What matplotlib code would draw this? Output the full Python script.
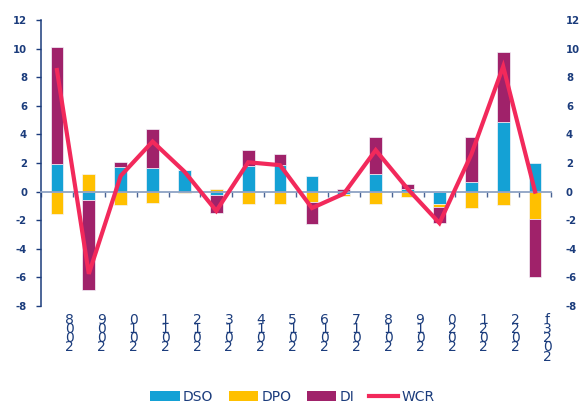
import numpy as np
import matplotlib
matplotlib.use("Agg")
import matplotlib.pyplot as plt
from matplotlib.patches import Patch
from matplotlib.lines import Line2D
from matplotlib import transforms

years = ["2008", "2009", "2010", "2011", "2012", "2013", "2014", "2015",
         "2016", "2017", "2018", "2019", "2020", "2021", "2022", "2023f"]
DSO = [1.9, -0.6, 1.75, 1.65, 1.5, -0.25, 1.8, 1.85, 1.1, -0.2, 1.25, 0.2, -0.85, 0.65, 4.85, 2.0]
DPO = [-1.6, 1.2, -0.95, -0.8, -0.1, 0.15, -0.85, -0.85, -0.75, -0.12, -0.85, -0.35, -0.2, -1.15, -0.95, -1.95]
DI = [8.2, -6.3, 0.3, 2.7, 0.0, -1.25, 1.1, 0.8, -1.5, 0.18, 2.55, 0.35, -1.15, 3.15, 4.9, -4.0]
WCR = [8.5, -5.75, 1.1, 3.5, 1.4, -1.35, 2.05, 1.85, -1.15, -0.15, 2.9, 0.2, -2.2, 2.6, 8.75, 0.0]
yticks = [-8, -6, -4, -2, 0, 2, 4, 6, 8, 10, 12]

series = [("DSO", DSO, "#14a1d5"), ("DPO", DPO, "#ffc000"), ("DI", DI, "#a0226a")]
NAVY = "#1b3c7c"
WCR_C = "#f2295b"
ZERO_C = "#8ea2c4"

plt.rcParams['font.family'] = ['DejaVu Sans']
fig = plt.figure(figsize=(5.82, 4.03), dpi=100)
ax = fig.add_axes([41/582, 1-306/403, 510/582, 286/403])

x = np.arange(len(years))
pos_base = np.zeros(len(years))
neg_base = np.zeros(len(years))
for name, vals, col in series:
    v = np.array(vals, dtype=float)
    base = np.where(v >= 0, pos_base, neg_base)
    ax.bar(x, v, width=0.4, bottom=base, color=col, edgecolor="#f4f4fa",
           linewidth=0.5, zorder=2)
    pos_base = pos_base + np.where(v >= 0, v, 0)
    neg_base = neg_base + np.where(v < 0, v, 0)

ax.plot(x, WCR, color=WCR_C, lw=3.0, zorder=4, solid_joinstyle='miter')

ax.set_xlim(-0.5, len(years) - 0.5)
ax.set_ylim(-8, 12)
ax.set_yticks(yticks)
ax.set_yticklabels([str(t) for t in yticks])

for s in ["top", "right"]:
    ax.spines[s].set_visible(False)
ax.spines["left"].set_color(NAVY)
ax.spines["left"].set_linewidth(1.1)
ax.spines["bottom"].set_position(("data", 0))
ax.spines["bottom"].set_color(ZERO_C)
ax.spines["bottom"].set_linewidth(1.3)
ax.spines["bottom"].set_zorder(3)

ax.set_xticks(np.arange(-0.5, len(years), 1.0))
ax.set_xticklabels([])
ax.tick_params(axis="x", direction="out", length=3.5, width=1.0, color="#4a6494")
ax.tick_params(axis="y", direction="out", length=3.5, width=1.0, color=NAVY,
               pad=6.5, labelcolor=NAVY, labelsize=7.3)
for lab in ax.get_yticklabels():
    lab.set_fontweight("bold")

trans = transforms.blended_transform_factory(ax.transData, ax.transAxes)
for i, yr in enumerate(years):
    txt = "\n".join(reversed(list(yr)))
    ax.annotate(txt, xy=(i, 0), xycoords=trans, xytext=(9.0, -5.0),
                textcoords="offset points", ha="center", va="top",
                fontsize=10, color=NAVY, linespacing=0.56)

ax2 = ax.twinx()
ax2.set_ylim(-8, 12)
ax2.set_yticks(yticks)
ax2.set_yticklabels([str(t) for t in yticks])
for s in ax2.spines.values():
    s.set_visible(False)
ax2.tick_params(axis="y", length=0, pad=10.8, labelcolor=NAVY, labelsize=7.3)
for lab in ax2.get_yticklabels():
    lab.set_fontweight("bold")

handles = [Patch(facecolor=c, edgecolor="none", label=n) for n, _, c in series]
handles.append(Line2D([0], [0], color=WCR_C, lw=3.0, label="WCR"))
leg = fig.legend(handles=handles, loc="upper center", ncol=4,
                 bbox_to_anchor=(0.503, 1 - 383/403), frameon=False,
                 fontsize=10, handlelength=2.1, handletextpad=0.25,
                 columnspacing=1.1, borderpad=0.0, handleheight=0.75)
for t in leg.get_texts():
    t.set_color(NAVY)

fig.savefig("out.png", dpi=100)
